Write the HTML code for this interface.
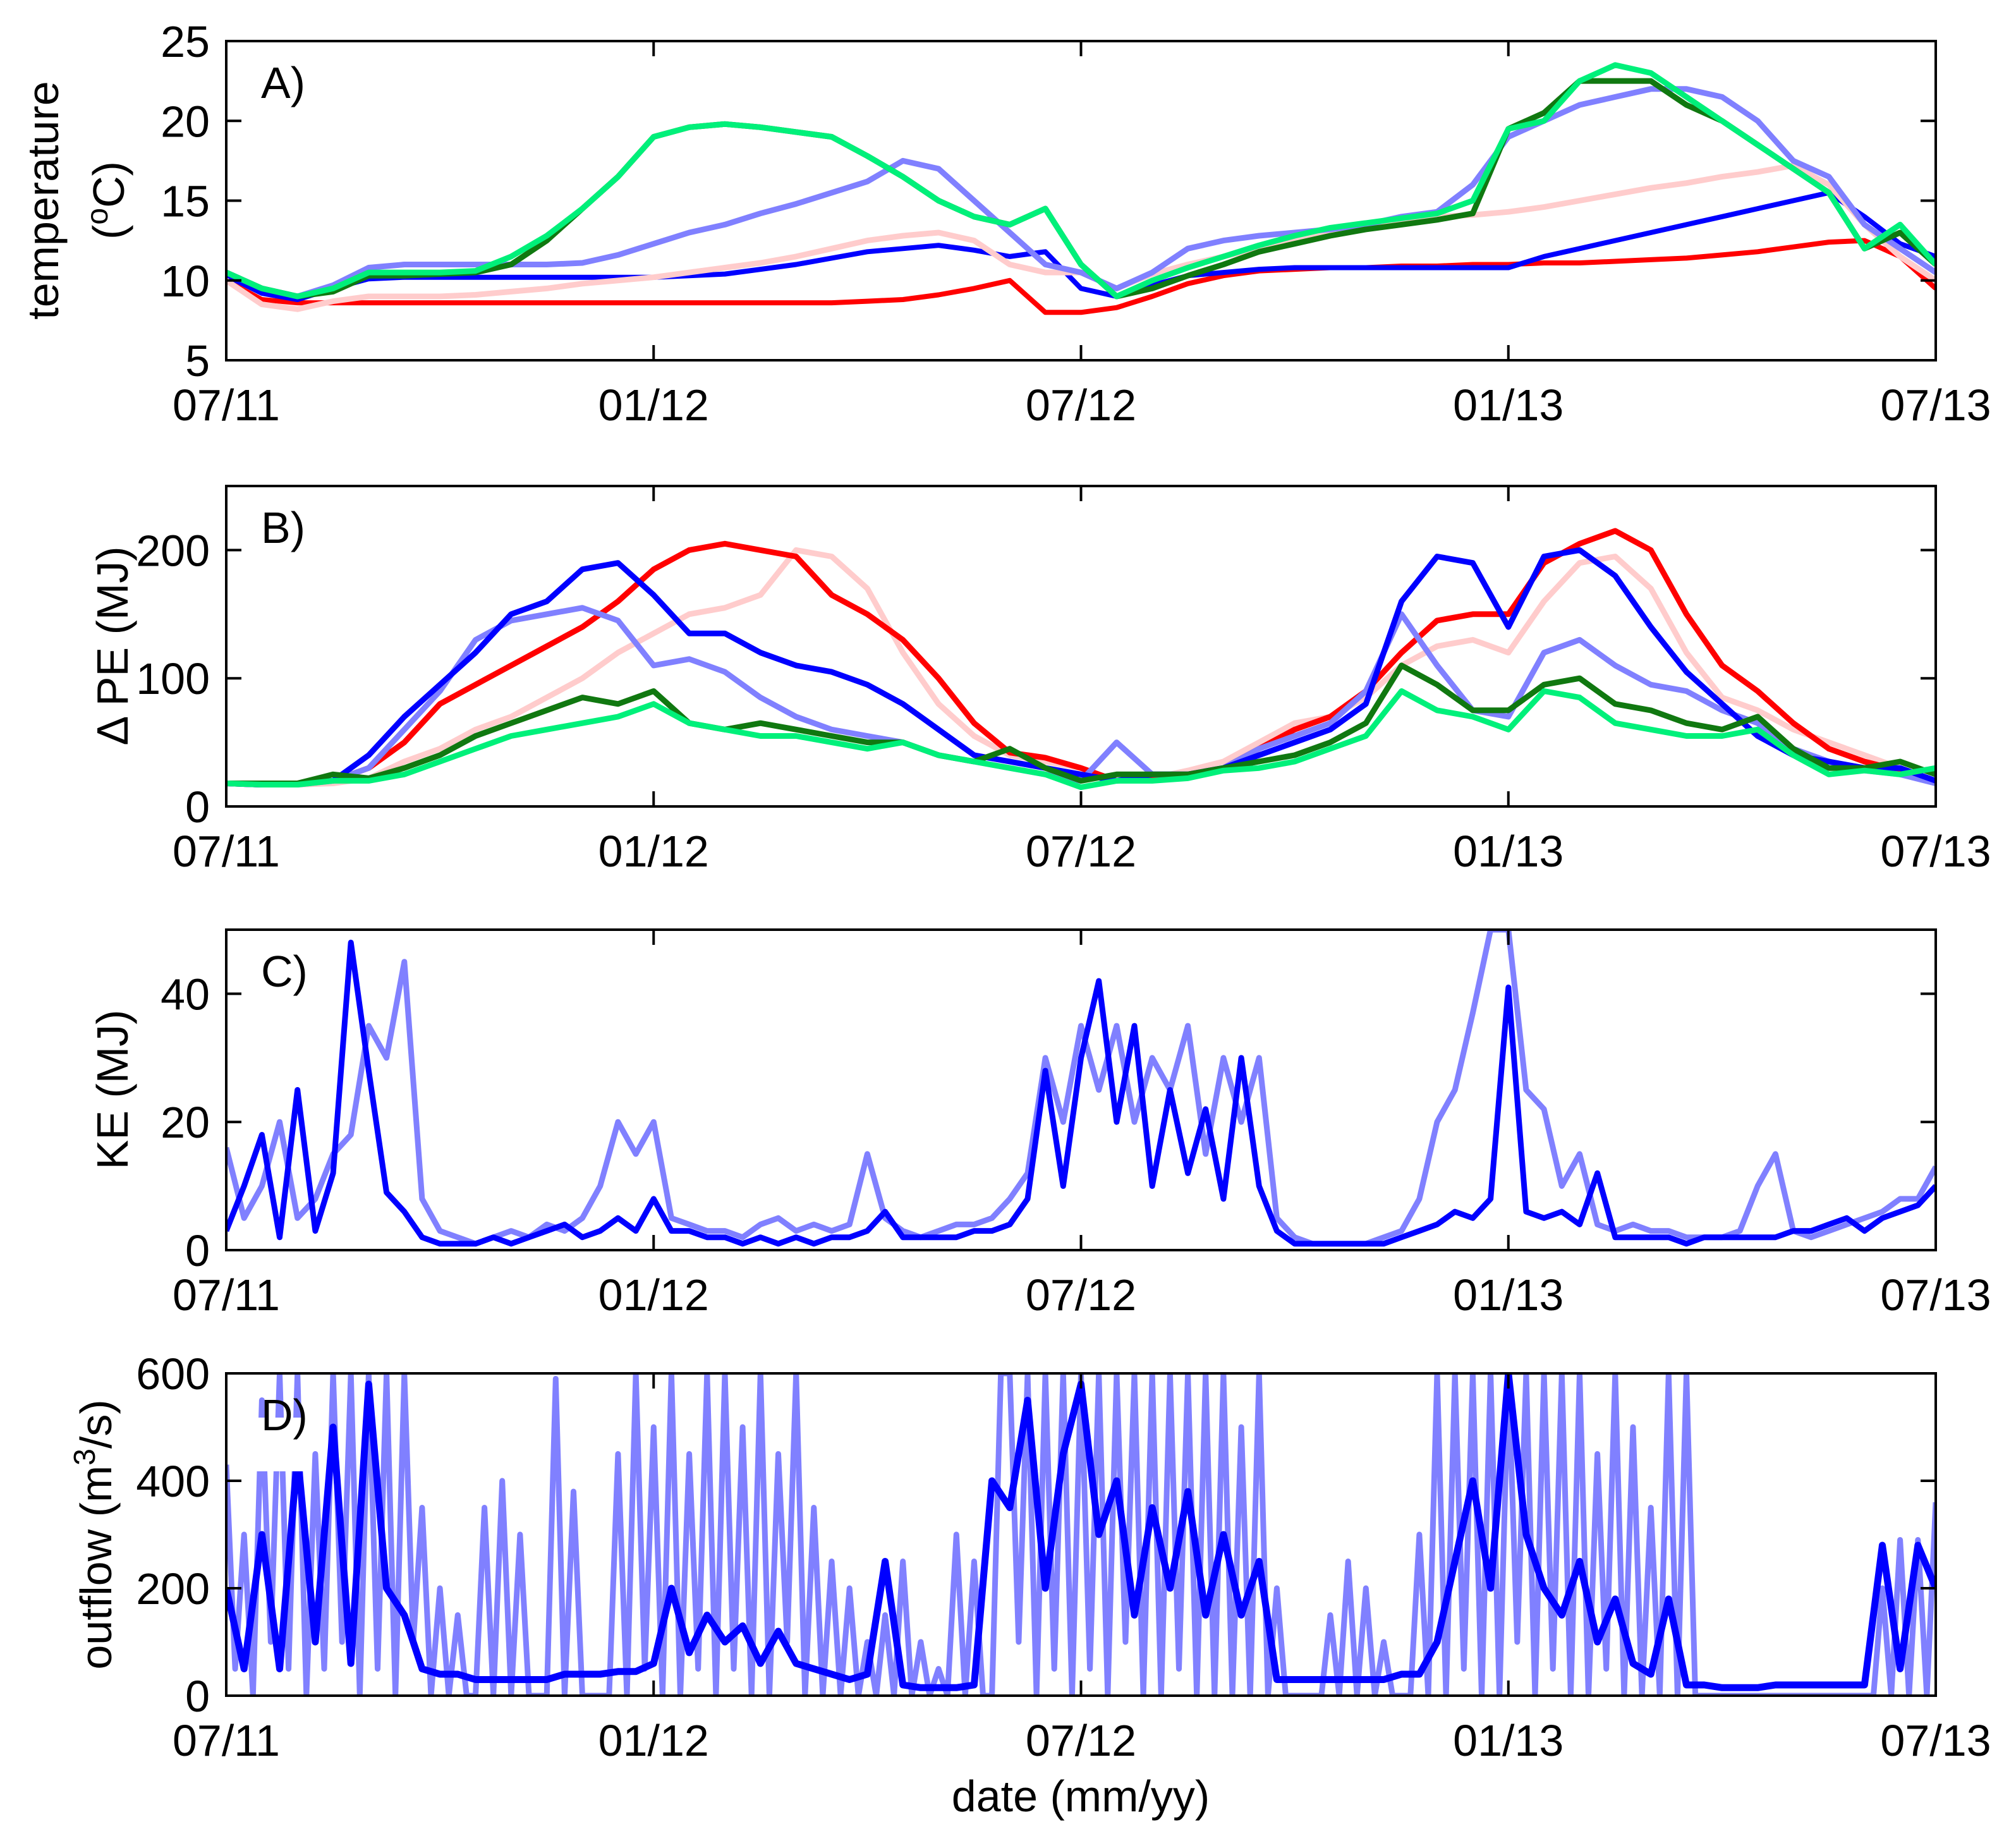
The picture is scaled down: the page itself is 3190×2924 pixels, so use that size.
<!DOCTYPE html>
<html><head><meta charset="utf-8"><style>
html,body{margin:0;padding:0;background:#fff;}
svg{display:block;font-family:"Liberation Sans",Arial,sans-serif;}
</style></head><body>
<svg id="fig" width="3190" height="2924" viewBox="0 0 3190 2924"></svg>
<script>
// ---------- data ----------
const monthTicks = [0, 6, 12, 18, 24];
const dateLabels = ["07/11", "01/12", "07/12", "01/13", "07/13"];

// Panel A temperature (°C), every 0.5 month
const tRed = [10,8.8,8.6,8.6,8.6,8.6,8.6,8.6,8.6,8.6,8.6,8.6,8.6,8.6,8.6,8.6,8.6,8.6,8.7,8.8,9.1,9.5,10,8.0,8.0,8.3,9,9.8,10.3,10.6,10.7,10.8,10.8,10.9,10.9,11,11,11.1,11.1,11.2,11.3,11.4,11.6,11.8,12.1,12.4,12.5,11.5,9.5];
const tBlue = [10.3,9.2,8.8,9.5,10.1,10.2,10.2,10.2,10.2,10.2,10.2,10.2,10.2,10.3,10.4,10.7,11,11.4,11.8,12,12.2,11.9,11.5,11.8,9.5,9.0,9.7,10.3,10.5,10.7,10.8,10.8,10.8,10.8,10.8,10.8,10.8,11.5,12,12.5,13,13.5,14,14.5,15,15.5,14,12.3,11.5];
const tPink = [10,8.5,8.2,8.7,9.0,9.0,9.0,9.1,9.3,9.5,9.8,10,10.2,10.5,10.8,11.1,11.5,12,12.5,12.8,13,12.5,11,10.5,10.5,9.5,10.4,11,11.5,12,12.5,12.9,13.3,13.6,14,14.1,14.3,14.6,15,15.4,15.8,16.1,16.5,16.8,17.2,16,13.5,11.5,10];
const tLight = [10.5,9.5,9,9.7,10.8,11,11,11,11,11,11.1,11.6,12.3,13,13.5,14.2,14.8,15.5,16.2,17.5,17,15,13,11,10.5,9.5,10.5,12,12.5,12.8,13,13.2,13.5,14,14.3,16,19,20,21,21.5,22,22,21.5,20,17.5,16.5,13.5,12,10.5];
const tDkGreen = [10.5,9.5,9,9.3,10.3,10.3,10.4,10.5,11,12.5,14.5,16.5,19,19.6,19.8,19.6,19.3,19,17.8,16.5,15,14,13.5,14.5,11,9,9.5,10.3,11,11.8,12.3,12.8,13.2,13.5,13.8,14.2,19.5,20.5,22.5,22.5,22.5,21,20,18.5,17,15.5,12,13,11];
const tGreen = [10.5,9.5,9,9.5,10.5,10.5,10.5,10.6,11.5,12.8,14.5,16.5,19,19.6,19.8,19.6,19.3,19,17.8,16.5,15,14,13.5,14.5,11,9,10,10.8,11.5,12.2,12.8,13.3,13.6,13.9,14.2,15,19.5,20,22.5,23.5,23,21.5,20,18.5,17,15.5,12,13.5,11];

// Panel B ΔPE (MJ), every 0.5 month
const peRed = [18,17,18,20,30,50,80,95,110,125,140,160,185,200,205,200,195,165,150,130,100,65,42,38,30,20,22,25,30,45,60,70,90,120,145,150,150,190,205,215,200,150,110,90,65,45,35,28,20];
const peBlue = [18,17,18,20,40,70,95,120,150,160,185,190,165,135,135,120,110,105,95,80,60,40,35,30,25,20,25,25,30,40,50,60,80,160,195,190,140,195,200,180,140,105,80,55,40,35,30,30,20];
const pePink = [18,17,17,18,22,35,45,60,70,85,100,120,135,150,155,165,200,195,170,120,80,55,40,35,30,20,22,28,35,50,65,70,85,110,125,130,120,160,190,195,170,120,85,75,60,50,40,30,20];
const peLight = [18,17,17,20,30,60,90,130,145,150,155,145,110,115,105,85,70,60,55,50,40,35,30,25,20,50,25,25,30,45,55,65,90,150,110,75,70,120,130,110,95,90,75,65,45,35,28,25,18];
const peDkGreen = [18,18,18,25,22,30,40,55,65,75,85,80,90,65,60,65,60,55,50,50,40,35,45,30,20,25,25,25,30,35,40,50,65,110,95,75,75,95,100,80,75,65,60,70,45,30,30,35,25];
const peGreen = [18,17,17,20,20,25,35,45,55,60,65,70,80,65,60,55,55,50,45,50,40,35,30,25,15,20,20,22,28,30,35,45,55,90,75,70,60,90,85,65,60,55,55,60,40,25,28,25,30];

// Panel C KE (MJ), every 0.25 month
const keLight = [16,5,10,20,5,8,15,18,35,30,45,8, 3,2,1,2,3,2,4,3,5,10,20,15, 20,5,4,3,3,2,4,5,3,4,3,4, 15,5,3,2,3,4,4,5,8,12, 30,20,35,25,35,20,30,25,35,15,30,20,30, 5,2,1,1,1,1,2,3,8,20,25, 37,50,50,25,22,10,15,4,3,4,3, 3,2,2,2,3,10,15,3,2,3,4,5,6,8,8,13];
const keBlue = [3,10,18,2,25,3,12,48,28,9,6,2, 1,1,1,2,1,2,3,4,2,3,5,3, 8,3,3,2,2,1,2,1,2,1,2,2, 3,6,2,2,2,2,3,3,4,8, 28,10,30,42,20,35,10,25,12,22,8,30,10, 3,1,1,1,1,1,1,2,3,4,6, 5,8,41,6,5,6,4,12,2,2,2, 2,1,2,2,2,2,2,3,3,4,5,3,5,6,7,10];

// Panel D outflow (m3/s)
const qLight = [430,50,300,0,550,100,600,50, 600,0,450,50,600,100,600,0, 600,50,600,0,600,100,350,0, 200,0,150,0,0,350,0,400, 0,300,0,0,0,590,0,380, 0,0,0,0,450,0,600,50, 500,0,600,0,450,50,600,0, 600,50,500,0,600,0,450,100, 600,0,350,0,250,0,200,0, 100,0,150,0,250,0,100,0, 50,0,300,0,250,0,0,600, 600,100,600,0,600,50,600,0, 600,50,600,0,600,100,600,0, 600,0,600,50,600,0,600,0, 600,0,500,0,600,0,200,0, 0,0,0,0,150,0,250,0, 200,0,100,0,0,0,300,0, 600,0,600,50,600,0,600,0, 600,100,600,0,600,50,600,0, 600,0,450,50,600,0,500,0, 350,0,600,0,600,0,0,0, 0,0,0,0,0,0,0,0, 0,0,0,0,0,0,0,0, 0,0,200,0,290,0,290,0, 360];
const qBlue = [200,50,300,50, 450,100,500,60, 580,200,150,50, 40,40,30,30, 30,30,30,40, 40,40,45,45, 60,200,80,150, 100,130,60,120, 60,50,40,30, 40,250,20,15, 15,15,20,400, 350,550,200,450, 580,300,400,150, 350,200,380,150, 300,150,250,30, 30,30,30,30, 30,30,40,40, 100,250,400,200, 600,300,200,150, 250,100,180,60, 40,180,20,20, 15,15,15,20, 20,20,20,20, 20,280,50,280, 200];

// ---------- drawing ----------
const NS = "http://www.w3.org/2000/svg";
const svg = document.getElementById("fig");
const L = 358, R = 3063;
const xScale = m => L + (R - L) * m / 24;

function mk(tag, attrs, parent) {
  const e = document.createElementNS(NS, tag);
  for (const k in attrs) e.setAttribute(k, attrs[k]);
  (parent || svg).appendChild(e);
  return e;
}

const panels = [
  {id:"a", top:65, bot:570, ymin:5, ymax:25, yt:[5,10,15,20,25], letter:"A)"},
  {id:"b", top:769, bot:1276, ymin:0, ymax:250, yt:[0,100,200], letter:"B)"},
  {id:"c", top:1471, bot:1978, ymin:0, ymax:50, yt:[0,20,40], letter:"C)"},
  {id:"d", top:2173, bot:2683, ymin:0, ymax:600, yt:[0,200,400,600], letter:"D)"}
];

function drawSeries(p, vals, step, color, w, name) {
  const ys = v => p.bot - (p.bot - p.top) * (v - p.ymin) / (p.ymax - p.ymin);
  let d = "";
  vals.forEach((v, i) => {
    const vv = Math.max(p.ymin, Math.min(p.ymax, v));
    d += (i ? "L" : "M") + xScale(i * step).toFixed(1) + " " + ys(vv).toFixed(1);
  });
  const el = mk("path", {d: d, fill: "none", stroke: color, "stroke-width": w, "stroke-linejoin": "round", "clip-path": "url(#clip-" + p.id + ")"});
  
  
}

const defs = mk("defs", {});
panels.forEach(p => {
  const cp = mk("clipPath", {id: "clip-" + p.id}, defs);
  mk("rect", {x: L, y: p.top - 2, width: R - L, height: p.bot - p.top + 4}, cp);
});

const series = {
  a: [[tRed,.5,"#ff0000",8,"temp-red"],[tBlue,.5,"#0000ff",8,"temp-blue"],[tPink,.5,"#ffcccc",9,"temp-pink"],[tLight,.5,"#8080ff",9,"temp-lightblue"],[tDkGreen,.5,"#107810",9,"temp-darkgreen"],[tGreen,.5,"#00f07a",9,"temp-green"]],
  b: [[pePink,.5,"#ffcccc",9,"pe-pink"],[peRed,.5,"#ff0000",9,"pe-red"],[peLight,.5,"#8080ff",9,"pe-lightblue"],[peBlue,.5,"#0000ff",9,"pe-blue"],[peDkGreen,.5,"#107810",9,"pe-darkgreen"],[peGreen,.5,"#00f07a",9,"pe-green"]],
  c: [[keLight,.25,"#8080ff",9,"ke-lightblue"],[keBlue,.25,"#0000ff",9,"ke-blue"]],
  d: [[qLight,.125,"#8080ff",9,"outflow-lightblue"],[qBlue,.25,"#0000ff",11,"outflow-blue"]]
};

panels.forEach(p => {
  const g = mk("g", {});
  
  
  const ys = v => p.bot - (p.bot - p.top) * (v - p.ymin) / (p.ymax - p.ymin);
  series[p.id].forEach(s => drawSeries(p, s[0], s[1], s[2], s[3], s[4]));
  const fr = mk("rect", {x: L, y: p.top, width: R - L, height: p.bot - p.top, fill: "none", stroke: "#000", "stroke-width": 4});
  
  
  p.yt.forEach(v => {
    const y = ys(v);
    mk("line", {x1: L, x2: L + 24, y1: y, y2: y, stroke: "#000", "stroke-width": 4});
    mk("line", {x1: R, x2: R - 24, y1: y, y2: y, stroke: "#000", "stroke-width": 4});
    const t = mk("text", {x: 332, y: y + 25, "font-size": 70, "text-anchor": "end"});
    t.textContent = v;
    
    
  });
  monthTicks.forEach((m, i) => {
    const x = xScale(m);
    mk("line", {x1: x, x2: x, y1: p.bot, y2: p.bot - 24, stroke: "#000", "stroke-width": 4});
    mk("line", {x1: x, x2: x, y1: p.top, y2: p.top + 24, stroke: "#000", "stroke-width": 4});
    const t = mk("text", {x: x, y: p.bot + 95, "font-size": 70, "text-anchor": "middle"});
    t.textContent = dateLabels[i];
    
    
  });
  if (p.id === "d") mk("rect", {x: 400, y: p.top + 70, width: 92, height: 85, fill: "#fff"});
  const lt = mk("text", {x: 413, y: p.top + 90, "font-size": 70});
  lt.textContent = p.letter;
  
  
});

function ylab(x, yc, html, name) {
  const t = mk("text", {x: 0, y: 0, "font-size": 70, "text-anchor": "middle", transform: "translate(" + x + "," + yc + ") rotate(-90)"});
  t.innerHTML = html;
  
  
}
ylab(92, 317, "temperature", "y-axis-title-a");
ylab(196, 317, "(<tspan font-size='48' dy='-26'>o</tspan><tspan dy='26'>C)</tspan>", "y-axis-units-a");
ylab(202, 1022, "Δ PE (MJ)", "y-axis-title-b");
ylab(202, 1724, "KE (MJ)", "y-axis-title-c");
ylab(176, 2428, "outflow (m<tspan font-size='48' dy='-26'>3</tspan><tspan dy='26'>/s)</tspan>", "y-axis-title-d");

const xl = mk("text", {x: 1710, y: 2866, "font-size": 70, "text-anchor": "middle"});
xl.textContent = "date (mm/yy)";


</script>
</body></html>
